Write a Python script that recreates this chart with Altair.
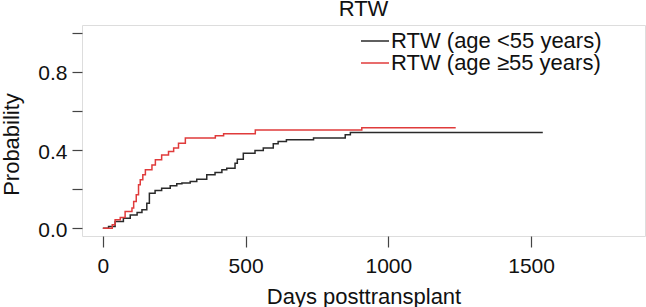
import altair as alt
import pandas as pd

# Kaplan-Meier style cumulative RTW probability
days_lt55 = [0, 20, 43, 72, 96, 120, 137, 154, 163, 183, 206, 236, 259, 277, 306,
             329, 364, 393, 417, 434, 463, 471, 492, 533, 562, 597, 614, 643, 738,
             849, 867, 1541]
prob_lt55 = [0, 0.008, 0.034, 0.051, 0.068, 0.080, 0.094, 0.128, 0.179, 0.193,
             0.205, 0.217, 0.227, 0.231, 0.239, 0.251, 0.273, 0.285, 0.299, 0.307,
             0.333, 0.353, 0.384, 0.398, 0.410, 0.432, 0.444, 0.453, 0.462, 0.478,
             0.490, 0.490]

days_ge55 = [0, 33, 43, 61, 78, 102, 108, 117, 125, 131, 140, 149, 172, 184, 206,
             230, 248, 265, 289, 394, 423, 534, 907, 1236]
prob_ge55 = [0, 0.017, 0.043, 0.055, 0.085, 0.103, 0.137, 0.171, 0.222, 0.248,
             0.273, 0.299, 0.324, 0.350, 0.375, 0.393, 0.410, 0.435, 0.461, 0.473,
             0.483, 0.503, 0.514, 0.514]

groups = ["RTW (age <55 years)", "RTW (age \u226555 years)"]
colors = ["#2a2a2a", "#e03b3b"]

x_ticks = [0, 500, 1000, 1500]
y_ticks = [0, 0.2, 0.4, 0.6, 0.8, 1.0]

df = pd.concat([
    pd.DataFrame({"days": days_lt55, "prob": prob_lt55, "group": groups[0]}),
    pd.DataFrame({"days": days_ge55, "prob": prob_ge55, "group": groups[1]}),
])

FONT = "Liberation Sans"

chart = alt.Chart(df).mark_line(interpolate="step-after", strokeWidth=1.5).encode(
    x=alt.X("days:Q",
            scale=alt.Scale(domain=[-73, 1899], nice=False, zero=False),
            axis=alt.Axis(values=x_ticks, format="d", title="Days posttransplant",
                          grid=False, domain=False, tickSize=11, tickColor="#444",
                          tickWidth=1.2, labelFontSize=21, labelPadding=8,
                          labelColor="#111", labelFont=FONT, titleFont=FONT,
                          titleFontSize=22, titleFontWeight="normal",
                          titleColor="#111", titleBaseline="alphabetic", titleY=67)),
    y=alt.Y("prob:Q",
            scale=alt.Scale(domain=[-0.04, 1.04], nice=False, zero=False),
            axis=alt.Axis(values=y_ticks, title="Probability", grid=False,
                          domain=False, tickSize=10, tickColor="#444", tickWidth=1.2,
                          labelExpr="(abs(datum.value) < 1e-6 || abs(datum.value - 0.4) < 1e-6 || abs(datum.value - 0.8) < 1e-6) ? format(datum.value, '.1f') : ''",
                          labelFontSize=21, labelPadding=5, labelOffset=2,
                          labelColor="#111", labelFont=FONT, titleFont=FONT,
                          titleFontSize=22, titleFontWeight="normal", titleColor="#111",
                          titleBaseline="alphabetic", titleAngle=270,
                          titleX=-64, titleY=119)),
    color=alt.Color("group:N",
                    scale=alt.Scale(domain=groups, range=colors),
                    legend=alt.Legend(orient="none", legendX=282, legendY=5,
                                      title=None, symbolType="M-2,0H2",
                                      symbolSize=196, symbolStrokeWidth=1.5,
                                      labelFontSize=22, labelFont=FONT,
                                      labelColor="#111", labelOffset=5,
                                      labelLimit=0, rowPadding=0, padding=0)),
).properties(
    width=563,
    height=211,
    title=alt.TitleParams("RTW", fontSize=22, font=FONT, fontWeight="normal",
                          color="#111", baseline="alphabetic", offset=10, dy=23,
                          anchor="middle", frame="group"),
    autosize=alt.AutoSizeParams(type="none"),
    padding={"left": 82, "top": 25, "right": 1, "bottom": 71},
).configure_view(
    stroke="#444444", strokeWidth=1.8
).configure(background="white")

chart.save("out.html", embed_options={"renderer": "svg", "actions": False})
